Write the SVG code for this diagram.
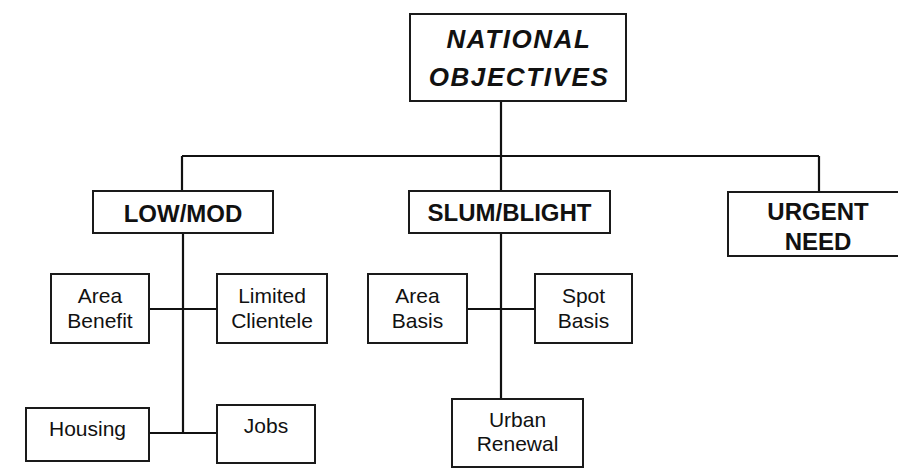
<svg xmlns="http://www.w3.org/2000/svg" width="898" height="470" viewBox="0 0 898 470">
<style>
.box{fill:#fff;stroke:#1a1a1a;stroke-width:2}
.ln{stroke:#111;stroke-width:2.2;fill:none}
.t{font-family:"Liberation Sans",Arial,sans-serif;font-size:21px;fill:#111;text-anchor:middle}
.b{font-family:"Liberation Sans",Arial,sans-serif;font-size:24px;font-weight:bold;fill:#111;text-anchor:middle}
.bi{font-family:"Liberation Sans",Arial,sans-serif;font-size:26px;font-weight:bold;font-style:italic;fill:#111;text-anchor:middle;letter-spacing:1.6px}
</style>
<rect width="898" height="470" fill="#fff"/>
<g id="connectors">
<path class="ln" d="M501 101V156M182 156H819M182 156V191M501 156V191M819 156V192"/>
<path class="ln" d="M183 233V433M149 309H217M149 433H217"/>
<path class="ln" d="M501 233V399M467 309H535"/>
</g>
<g id="national">
<rect class="box" x="410" y="14" width="216" height="87"/>
<text class="bi" x="519" y="48">NATIONAL</text>
<text class="bi" x="519" y="86">OBJECTIVES</text>
</g>
<g id="lowmod">
<rect class="box" x="93" y="191" width="180" height="42"/>
<text class="b" x="183" y="222">LOW/MOD</text>
</g>
<g id="slum">
<rect class="box" x="409" y="191" width="201" height="42"/>
<text class="b" x="509.5" y="221">SLUM/BLIGHT</text>
</g>
<g id="urgent">
<rect class="box" x="728" y="192" width="180" height="64"/>
<text class="b" x="818" y="220">URGENT</text>
<text class="b" x="818" y="250">NEED</text>
</g>
<g id="area-benefit">
<rect class="box" x="51" y="274" width="98" height="69"/>
<text class="t" x="100" y="303">Area</text>
<text class="t" x="100" y="328">Benefit</text>
</g>
<g id="limited-clientele">
<rect class="box" x="217" y="274" width="110" height="69"/>
<text class="t" x="272" y="303">Limited</text>
<text class="t" x="272" y="328">Clientele</text>
</g>
<g id="area-basis">
<rect class="box" x="368" y="274" width="99" height="69"/>
<text class="t" x="417.5" y="303">Area</text>
<text class="t" x="417.5" y="328">Basis</text>
</g>
<g id="spot-basis">
<rect class="box" x="535" y="274" width="97" height="69"/>
<text class="t" x="583.5" y="303">Spot</text>
<text class="t" x="583.5" y="328">Basis</text>
</g>
<g id="housing">
<rect class="box" x="26" y="408" width="123" height="53"/>
<text class="t" x="87.5" y="436">Housing</text>
</g>
<g id="jobs">
<rect class="box" x="217" y="405" width="98" height="58"/>
<text class="t" x="266" y="433">Jobs</text>
</g>
<g id="urban-renewal">
<rect class="box" x="452" y="399" width="131" height="68"/>
<text class="t" x="517.5" y="427">Urban</text>
<text class="t" x="517.5" y="451">Renewal</text>
</g>
</svg>
